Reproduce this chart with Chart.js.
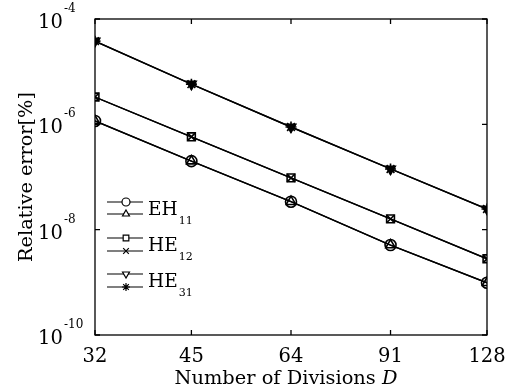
<!DOCTYPE html>
<html>
<head>
<meta charset="utf-8">
<script src="https://cdn.jsdelivr.net/npm/chart.js@4.4.0/dist/chart.umd.min.js"></script>
<style>
  body { margin: 0; background: #fff; }
  #wrap { width: 506px; height: 392px; }
</style>
</head>
<body>
<div id="wrap"><canvas id="errChart" width="506" height="392"></canvas></div>
<script>
// values
const divisions = [32, 45, 64, 91, 128];
const eh11 = [1.16e-6, 2.0e-7, 3.4e-8, 5.1e-9, 9.8e-10];
const he12 = [3.3e-6, 5.8e-7, 9.6e-8, 1.6e-8, 2.8e-9];
const he31 = [3.8e-5, 5.8e-6, 8.9e-7, 1.42e-7, 2.47e-8];
const xTicks = [32, 45, 64, 91, 128];
const yTickExps = [-10, -8, -6, -4];

const SERIF = '"DejaVu Serif", "Liberation Serif", serif';

const toPts = arr => arr.map((v, i) => ({ x: divisions[i], y: v }));

// each mode is drawn twice (the two polarisations overlap)
const series = [
  { name: 'EH', sub: '11', data: eh11, styles: [{ s: 'circle', r: 0 }, { s: 'triangle', r: 0 }] },
  { name: 'HE', sub: '12', data: he12, styles: [{ s: 'rect', r: 0 }, { s: 'crossRot', r: 0 }] },
  { name: 'HE', sub: '31', data: he31, styles: [{ s: 'triangle', r: 180, fill: true }, { s: 'star', r: 0 }] }
];

const datasets = [];
series.forEach(se => {
  se.styles.forEach(st => {
    datasets.push({
      data: toPts(se.data),
      showLine: true,
      borderColor: '#000',
      backgroundColor: st.fill ? '#000' : 'rgba(0,0,0,0)',
      borderWidth: 1.4,
      pointStyle: st.s,
      rotation: st.r,
      pointRadius: 5.5,
      pointBorderColor: '#000',
      pointBorderWidth: 1.6
    });
  });
});

// font size that makes text span a given width
function fitFont(ctx, text, width, style) {
  ctx.font = (style || '') + ' 20px ' + SERIF;
  return 20 * width / ctx.measureText(text).width;
}

const frame = {
  id: 'frame',
  afterDraw(chart) {
    const { ctx, chartArea: a, scales } = chart;
    const xs = scales.x, ys = scales.y;
    ctx.save();
    ctx.strokeStyle = '#000';
    ctx.fillStyle = '#000';
    ctx.lineWidth = 1.3;
    ctx.strokeRect(a.left, a.top, a.right - a.left, a.bottom - a.top);

    // inward ticks
    ctx.beginPath();
    xTicks.forEach(t => {
      const px = xs.getPixelForValue(t);
      ctx.moveTo(px, a.bottom); ctx.lineTo(px, a.bottom - 5);
      ctx.moveTo(px, a.top); ctx.lineTo(px, a.top + 5);
    });
    yTickExps.forEach(e => {
      const py = ys.getPixelForValue(Math.pow(10, e));
      ctx.moveTo(a.left, py); ctx.lineTo(a.left + 5, py);
      ctx.moveTo(a.right, py); ctx.lineTo(a.right - 5, py);
    });
    ctx.stroke();

    // x tick labels
    ctx.font = '19.5px ' + SERIF;
    ctx.textAlign = 'center';
    ctx.textBaseline = 'alphabetic';
    xTicks.forEach(t => {
      ctx.fillText(String(t), xs.getPixelForValue(t), 362);
    });

    // y tick labels 10^n
    yTickExps.forEach(e => {
      const py = ys.getPixelForValue(Math.pow(10, e));
      ctx.textAlign = 'left';
      ctx.font = '19.5px ' + SERIF;
      ctx.fillText('10', 38, py + 9);
      ctx.font = '12px ' + SERIF;
      ctx.fillText(String(e), 64, py - 7);
    });

    // x title
    ctx.textAlign = 'left';
    const t1 = 'Number of Divisions ';
    const fs = fitFont(ctx, t1 + 'D', 223);
    ctx.font = fs + 'px ' + SERIF;
    const w1 = ctx.measureText(t1).width;
    ctx.font = 'italic ' + fs + 'px ' + SERIF;
    const w2 = ctx.measureText('D').width;
    const x0 = 286 - (w1 + w2) / 2;
    ctx.font = fs + 'px ' + SERIF;
    ctx.fillText(t1, x0, 384);
    ctx.font = 'italic ' + fs + 'px ' + SERIF;
    ctx.fillText('D', x0 + w1, 384);

    // y title
    ctx.save();
    ctx.translate(32, 177);
    ctx.rotate(-Math.PI / 2);
    ctx.textAlign = 'center';
    const fy = fitFont(ctx, 'Relative error[%]', 170);
    ctx.font = fy + 'px ' + SERIF;
    ctx.fillText('Relative error[%]', 0, 0);
    ctx.restore();

    // legend
    const rows = [[202, 214, 215], [238, 251, 251], [274, 287, 287]];
    series.forEach((se, i) => {
      const r = rows[i];
      se.styles.forEach((st, j) => {
        const y = r[j];
        ctx.lineWidth = 1.2;
        ctx.beginPath();
        ctx.moveTo(107, y); ctx.lineTo(143, y);
        ctx.stroke();
        ctx.fillStyle = '#fff';
        Chart.helpers.drawPoint(ctx, { pointStyle: st.s, radius: 4, rotation: st.r, borderWidth: 1.1 }, 126, y);
        ctx.fillStyle = '#000';
      });
      ctx.textAlign = 'left';
      ctx.font = '18.5px ' + SERIF;
      ctx.fillText(se.name, 148, r[2]);
      const wn = ctx.measureText(se.name).width;
      ctx.font = '11px ' + SERIF;
      ctx.fillText(se.sub, 148 + wn + 1, r[2] + 9);
    });
    ctx.restore();
  }
};

new Chart(document.getElementById('errChart'), {
  type: 'scatter',
  data: { datasets },
  options: {
    responsive: false,
    animation: false,
    layout: { padding: { left: 95, right: 19, top: 19, bottom: 57 } },
    plugins: { legend: { display: false }, tooltip: { enabled: false } },
    scales: {
      x: { type: 'logarithmic', min: 32, max: 128, display: false },
      y: { type: 'logarithmic', min: 1e-10, max: 1e-4, display: false }
    }
  },
  plugins: [frame]
});
</script>
</body>
</html>
